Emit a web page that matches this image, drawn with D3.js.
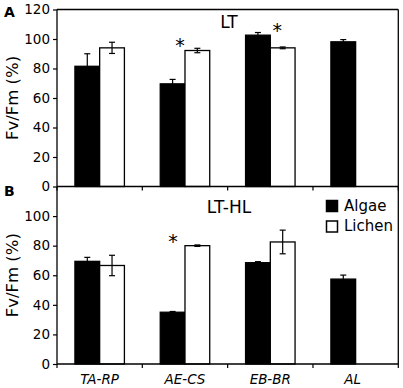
<!DOCTYPE html>
<html><head><meta charset="utf-8">
<script src="https://cdn.jsdelivr.net/npm/d3@7"></script>
<style>
html,body{margin:0;padding:0;background:#fff;}
svg{display:block;font-family:"DejaVu Sans",sans-serif;}
</style></head>
<body><svg id="c" width="403" height="388"></svg>
<script>
const categories = ["TA-RP","AE-CS","EB-BR","AL"];
const series = ["Algae","Lichen"];
const yTicksA = [0,20,40,60,80,100,120];
const yTicksB = [0,20,40,60,80,100];
// Panel A (LT)
const ltAlgae = [81.5, 69.6, 102.6, 98.1];
const ltAlgaeErr = [8.5, 3.0, 1.8, 1.5];
const ltLichen = [94.0, 92.2, 94.0, null];
const ltLichenErr = [3.8, 1.5, 0.6, null];
// Panel B (LT-HL)
const hlAlgae = [69.4, 35.0, 68.5, 57.4];
const hlAlgaeErr = [2.7, 0.5, 0.7, 2.7];
const hlLichen = [66.6, 80.0, 82.5, null];
const hlLichenErr = [6.9, 0.5, 8.0, null];
// significance markers: category and height (value units)
const sigA = [["AE-CS", 98, "left"], ["EB-BR", 108, "right"]];
const sigB = [["AE-CS", 85, "left2"]];

const svg = d3.select("#c");
svg.append("rect").attr("width",403).attr("height",388).attr("fill","#fff");

const left = 57, right = 398.3;
const x0 = d3.scaleBand().domain(categories).range([left, right]).padding(0);
const x1 = d3.scaleBand().domain(series).range([x0.bandwidth()*0.21, x0.bandwidth()*0.79]).padding(0);

function panel(cfg){
  const y = d3.scaleLinear().domain([0,120]).range([cfg.bottom, cfg.top]);
  const g = svg.append("g");
  const rows = categories.map((c,i)=>({c, vals:[
    {s:"Algae", v:cfg.algae[i], e:cfg.algaeErr[i]},
    {s:"Lichen", v:cfg.lichen[i], e:cfg.lichenErr[i]}]}));
  const grp = g.selectAll("g.grp").data(rows).join("g")
    .attr("transform", d=>`translate(${x0(d.c)},0)`);
  const bars = grp.selectAll("g.b").data(d=>d.vals.filter(v=>v.v!=null)).join("g");
  bars.append("rect")
    .attr("x", d=>x1(d.s)).attr("width", x1.bandwidth())
    .attr("y", d=>y(d.v)).attr("height", d=>y(0)-y(d.v))
    .attr("fill", d=>d.s==="Algae"?"#000":"#fff")
    .attr("stroke","#000").attr("stroke-width",1.3);
  const cx = d=>x1(d.s)+x1.bandwidth()/2;
  bars.append("line").attr("x1",cx).attr("x2",cx)
    .attr("y1",d=>y(d.v+d.e)).attr("y2",d=>y(d.v-d.e))
    .attr("stroke","#000").attr("stroke-width",1.2);
  [1,-1].forEach(sg=>{
    bars.append("line").attr("x1",d=>cx(d)-3).attr("x2",d=>cx(d)+3)
      .attr("y1",d=>y(d.v+sg*d.e)).attr("y2",d=>y(d.v+sg*d.e))
      .attr("stroke","#000").attr("stroke-width",1.2);
  });
  // axes
  const ya = d3.axisLeft(y).tickValues(cfg.yTicks).tickSize(4).tickPadding(3);
  const yg = g.append("g").attr("transform",`translate(${left},0)`).call(ya);
  yg.select(".domain").remove();
  yg.selectAll("text").attr("font-size",13.5).attr("font-family","DejaVu Sans").attr("fill","#000");
  yg.selectAll("line").attr("stroke","#000").attr("stroke-width",1.2);
  g.append("line").attr("x1",left).attr("x2",left).attr("y1",cfg.top).attr("y2",cfg.bottom)
    .attr("stroke","#000").attr("stroke-width",1.3);
  g.append("line").attr("x1",right).attr("x2",right).attr("y1",cfg.top).attr("y2",cfg.bottom)
    .attr("stroke","#000").attr("stroke-width",1.3);
  if(cfg.topLine) g.append("line").attr("x1",left).attr("x2",right).attr("y1",cfg.top).attr("y2",cfg.top)
    .attr("stroke","#000").attr("stroke-width",1.3);
  const xb = [...categories.map(c=>x0(c)), right];
  g.append("line").attr("x1",left).attr("x2",right).attr("y1",cfg.bottom).attr("y2",cfg.bottom)
    .attr("stroke","#000").attr("stroke-width",1.3);
  g.selectAll("line.xt").data(xb).join("line").attr("class","xt")
    .attr("x1",d=>d).attr("x2",d=>d).attr("y1",cfg.bottom).attr("y2",cfg.bottom+4)
    .attr("stroke","#000").attr("stroke-width",1.2);
  // y label
  g.append("text").attr("transform",`translate(12,${(cfg.top+cfg.bottom)/2}) rotate(-90)`)
    .attr("text-anchor","middle").attr("dominant-baseline","central")
    .attr("font-size",16.5).text("Fv/Fm (%)");
  // panel letter
  g.append("text").attr("x",4).attr("y",cfg.letterY).attr("font-size",14).attr("font-weight","bold").text(cfg.letter);
  // title
  g.append("text").attr("x",229).attr("y",cfg.titleY).attr("text-anchor","middle").attr("font-size",17).text(cfg.title);
  // asterisks
  const off = {left:-5, right:7, left2:-12};
  g.selectAll("text.sig").data(cfg.sig).join("text").attr("class","sig")
    .attr("x", d=>x0(d[0])+x0.bandwidth()/2+off[d[2]])
    .attr("y", d=>y(d[1])+10).attr("text-anchor","middle").attr("font-size",19).text("*");
  return y;
}

panel({top:9.5,bottom:186.5,algae:ltAlgae,algaeErr:ltAlgaeErr,lichen:ltLichen,lichenErr:ltLichenErr,
  yTicks:yTicksA,topLine:true,letter:"A",letterY:17,title:"LT",titleY:28,sig:sigA});
panel({top:186.5,bottom:364,algae:hlAlgae,algaeErr:hlAlgaeErr,lichen:hlLichen,lichenErr:hlLichenErr,
  yTicks:yTicksB,topLine:false,letter:"B",letterY:196,title:"LT-HL",titleY:213,sig:sigB});

// category labels
svg.selectAll("text.cat").data(categories).join("text").attr("class","cat")
  .attr("x",d=>x0(d)+x0.bandwidth()/2-(d==="AL"?3:0)).attr("y",384)
  .attr("text-anchor","middle").attr("font-size",13.5).attr("font-style","italic").text(d=>d);

// legend
const lg = svg.append("g").attr("transform","translate(326,200)");
lg.selectAll("rect").data(series).join("rect")
  .attr("x",0.5).attr("y",(d,i)=>i*20.5+0.5).attr("width",11).attr("height",11)
  .attr("fill",d=>d==="Algae"?"#000":"#fff").attr("stroke","#000").attr("stroke-width",1.5);
lg.selectAll("text").data(series).join("text")
  .attr("x",18).attr("y",(d,i)=>i*20.5+10.5).attr("font-size",15).text(d=>d);
</script></body></html>
